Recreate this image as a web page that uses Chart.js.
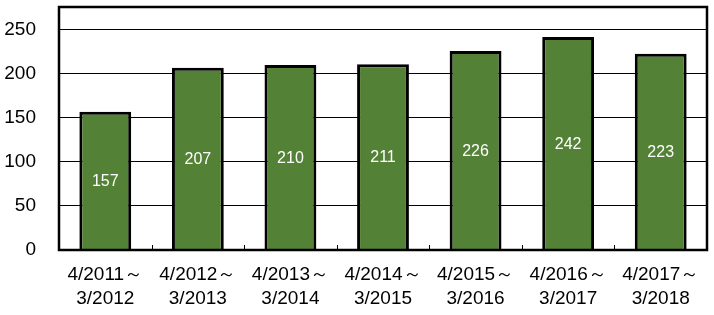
<!DOCTYPE html>
<html>
<head>
<meta charset="utf-8">
<script src="https://cdn.jsdelivr.net/npm/chart.js@4"></script>
<style>
  body { margin: 0; background: #fff; }
</style>
</head>
<body>
<canvas id="chart" width="714" height="315"></canvas>
<script>
var periods = [
  ["4/2011～", "3/2012"],
  ["4/2012～", "3/2013"],
  ["4/2013～", "3/2014"],
  ["4/2014～", "3/2015"],
  ["4/2015～", "3/2016"],
  ["4/2016～", "3/2017"],
  ["4/2017～", "3/2018"]
];
var counts = [157, 207, 210, 211, 226, 242, 223];
var yTicks = [0, 50, 100, 150, 200, 250];

// frame around the plot, small inward ticks between categories, value labels
var frameAndLabels = {
  id: "frameAndLabels",
  afterDatasetsDraw: function(chart) {
    var ctx = chart.ctx;
    var a = chart.chartArea;
    var xs = chart.scales.x;
    ctx.save();
    ctx.strokeStyle = "#000";
    ctx.lineWidth = 1;
    for (var i = 1; i < counts.length; i++) {
      var px = Math.round((xs.getPixelForValue(i - 1) + xs.getPixelForValue(i)) / 2) + 0.5;
      ctx.beginPath();
      ctx.moveTo(px, a.bottom);
      ctx.lineTo(px, a.bottom - 5);
      ctx.stroke();
    }
    ctx.lineWidth = 2.5;
    ctx.strokeRect(a.left, a.top, a.right - a.left, a.bottom - a.top);

    var meta = chart.getDatasetMeta(0);
    ctx.fillStyle = "#fff";
    ctx.font = "16px 'Liberation Sans', Arial, sans-serif";
    ctx.textAlign = "center";
    ctx.textBaseline = "middle";
    meta.data.forEach(function(bar, i) {
      ctx.fillText(String(counts[i]), bar.x, (bar.y + bar.base) / 2 + 1);
    });
    ctx.restore();
  }
};

new Chart(document.getElementById("chart"), {
  type: "bar",
  data: {
    labels: periods,
    datasets: [
      {
        data: counts,
        backgroundColor: "#538135",
        borderColor: "#000",
        borderWidth: 3,
        categoryPercentage: 1,
        barPercentage: 0.56
      }
    ]
  },
  options: {
    responsive: false,
    animation: false,
    layout: { padding: { top: 7, right: 7, left: 0, bottom: 0 } },
    plugins: {
      legend: { display: false },
      tooltip: { enabled: false }
    },
    scales: {
      x: {
        grid: { display: false },
        border: { display: false },
        ticks: {
          color: "#000",
          padding: 5,
          maxRotation: 0,
          autoSkip: false,
          font: { family: "'Liberation Sans', Arial, sans-serif", size: 19, lineHeight: 1.25 }
        },
        afterFit: function(s) {
          s.height = 65;
          s.paddingLeft = 0;
          s.paddingRight = 0;
        }
      },
      y: {
        min: 0,
        max: 276,
        border: { display: false },
        grid: { color: "#000", lineWidth: 1, drawTicks: false },
        afterBuildTicks: function(s) {
          s.ticks = yTicks.map(function(v) { return { value: v }; });
        },
        ticks: {
          color: "#000",
          padding: 23,
          font: { family: "'Liberation Sans', Arial, sans-serif", size: 19 }
        },
        afterFit: function(s) {
          s.width = 59;
          s.paddingTop = 0;
          s.paddingBottom = 0;
        }
      }
    }
  },
  plugins: [frameAndLabels]
});
</script>
</body>
</html>
